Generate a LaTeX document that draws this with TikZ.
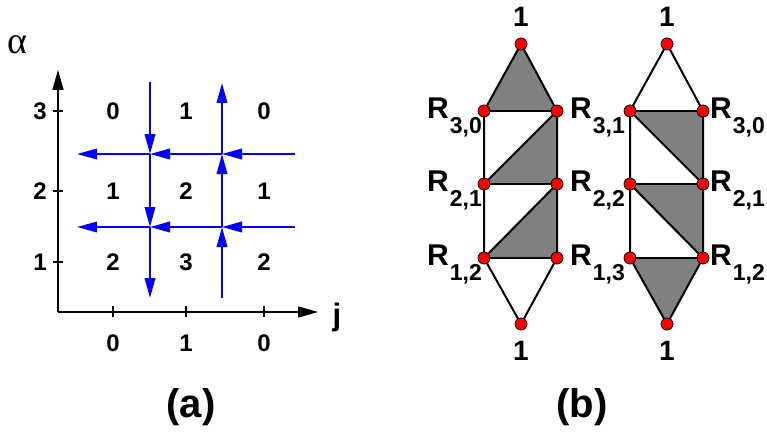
\documentclass[tikz,border=0pt]{standalone}
\usepackage{fontspec}
\setmainfont{Liberation Sans}
\newfontfamily\greekfont{Liberation Serif}
\usetikzlibrary{arrows.meta}
\newcommand{\Rlab}[1]{R\kern1pt\raisebox{-15pt}{\fontsize{23}{23}\selectfont #1}}
\tikzset{
  lbl/.style={font=\fontsize{24}{24}\selectfont\bfseries, inner sep=0pt},
  onelbl/.style={font=\fontsize{28}{28}\selectfont\bfseries, inner sep=0pt},
  caplbl/.style={font=\fontsize{40}{40}\selectfont\bfseries, inner sep=0pt},
  ax/.style={line width=1.3pt, -{Triangle[length=20pt,width=11pt]}},
  tick/.style={line width=1.3pt},
  flow/.style={blue, line width=2pt, -{Triangle[length=20pt,width=10.5pt]}},
  edge/.style={line width=2pt, line join=round},
  shade/.style={fill={rgb,255:red,128;green,128;blue,128}},
  dot/.style={circle, fill=red, draw=black, line width=0.8pt, minimum size=12pt, inner sep=0pt},
  rl/.style={font=\fontsize{30}{30}\selectfont\bfseries, inner sep=0pt},
}
\begin{document}
\begin{tikzpicture}[x=1pt,y=-1pt]
\useasboundingbox (0,0) rectangle (767,433);
% ---------- panel (a)
\coordinate (O) at (58,312);
\coordinate (Ytop) at (58,70);
\coordinate (Xend) at (318,312);
\draw[ax] (O) -- (Ytop);
\draw[ax] (O) -- (Xend);
\node[font=\fontsize{38}{38}\selectfont\greekfont, inner sep=0pt] (alpha) at (17,45) {α};
\node[lbl, font=\fontsize{31}{31}\selectfont\bfseries] (jl) at (337,317) {j};
% ticks
\foreach \y/\t/\n in {111/3/ta, 191/2/tb, 262/1/tc}{
  \draw[tick] (53,\y) -- (63,\y);
  \node[lbl] (\n) at (40,\y) {\t};
}
\foreach \x/\t/\n in {113/0/xa, 186/1/xb, 264/0/xc}{
  \draw[tick] (\x,306) -- (\x,317);
  \node[lbl] (\n) at (\x,343) {\t};
}
% cell values
\node[lbl] (c13) at (113,111) {0};
\node[lbl] (c23) at (186,111) {1};
\node[lbl] (c33) at (264,111) {0};
\node[lbl] (c12) at (113,191) {1};
\node[lbl] (c22) at (186,191) {2};
\node[lbl] (c32) at (264,191) {1};
\node[lbl] (c11) at (113,262) {2};
\node[lbl] (c21) at (186,262) {3};
\node[lbl] (c31) at (264,262) {2};
% flow lines
\coordinate (h1r) at (295,154); \coordinate (h1l) at (77,154);
\coordinate (h2r) at (295,227); \coordinate (h2l) at (77,227);
\coordinate (i11) at (150,154); \coordinate (i21) at (222,154);
\coordinate (i12) at (150,227); \coordinate (i22) at (222,227);
\coordinate (v1t) at (150,82); \coordinate (v1b) at (150,298);
\coordinate (v2t) at (222,83); \coordinate (v2b) at (222,298);
\draw[flow] (h1r) -- (i21); \draw[flow] (i21) -- (i11); \draw[flow] (i11) -- (h1l);
\draw[flow] (h2r) -- (i22); \draw[flow] (i22) -- (i12); \draw[flow] (i12) -- (h2l);
\draw[flow] (v1t) -- (i11); \draw[flow] (i11) -- (i12); \draw[flow] (i12) -- (v1b);
\draw[flow] (v2b) -- (i22); \draw[flow] (i22) -- (i21); \draw[flow] (i21) -- (v2t);
\node[caplbl] (capa) at (191,407) {(a)};
% ---------- panel (b)
% left ladder
\coordinate (AT) at (521,44);
\coordinate (A3l) at (484,111); \coordinate (A3r) at (557,111);
\coordinate (A2l) at (484,184); \coordinate (A2r) at (557,184);
\coordinate (A1l) at (484,258); \coordinate (A1r) at (557,258);
\coordinate (AB) at (521,324);
\fill[shade] (AT) -- (A3l) -- (A3r) -- cycle;
\fill[shade] (A2l) -- (A3r) -- (A2r) -- cycle;
\fill[shade] (A1l) -- (A2r) -- (A1r) -- cycle;
\draw[edge] (AT) -- (A3l) -- (A1l) -- (AB) -- (A1r) -- (A3r) -- cycle;
\draw[edge] (A3l) -- (A3r);
\draw[edge] (A2l) -- (A2r);
\draw[edge] (A1l) -- (A1r);
\draw[edge] (A2l) -- (A3r);
\draw[edge] (A1l) -- (A2r);
% right ladder
\coordinate (BT) at (667,44);
\coordinate (B3l) at (630,111); \coordinate (B3r) at (703,111);
\coordinate (B2l) at (630,184); \coordinate (B2r) at (703,184);
\coordinate (B1l) at (630,258); \coordinate (B1r) at (703,258);
\coordinate (BB) at (667,324);
\fill[shade] (B3l) -- (B3r) -- (B2r) -- cycle;
\fill[shade] (B2l) -- (B2r) -- (B1r) -- cycle;
\fill[shade] (B1l) -- (B1r) -- (BB) -- cycle;
\draw[edge] (BT) -- (B3l) -- (B1l) -- (BB) -- (B1r) -- (B3r) -- cycle;
\draw[edge] (B3l) -- (B3r);
\draw[edge] (B2l) -- (B2r);
\draw[edge] (B1l) -- (B1r);
\draw[edge] (B3l) -- (B2r);
\draw[edge] (B2l) -- (B1r);
% labels (behind dots)
\node[onelbl] (oneAT) at (521,17) {1};
\node[onelbl] (oneBT) at (667,17) {1};
\node[onelbl] (oneAB) at (521,351) {1};
\node[onelbl] (oneBB) at (667,351) {1};
\node[rl, anchor=base east] (lA3l) at (482,118) {\Rlab{3,0}};
\node[rl, anchor=base east] (lA2l) at (482,191) {\Rlab{2,1}};
\node[rl, anchor=base east] (lA1l) at (482,265) {\Rlab{1,2}};
\node[rl, anchor=base west] (lM3) at (570,118) {\Rlab{3,1}};
\node[rl, anchor=base west] (lM2) at (570,191) {\Rlab{2,2}};
\node[rl, anchor=base west] (lM1) at (570,265) {\Rlab{1,3}};
\node[rl, anchor=base west] (lB3r) at (710,118) {\Rlab{3,0}};
\node[rl, anchor=base west] (lB2r) at (710,191) {\Rlab{2,1}};
\node[rl, anchor=base west] (lB1r) at (710,265) {\Rlab{1,2}};
% dots
\foreach \c in {AT,A3l,A3r,A2l,A2r,A1l,A1r,AB,BT,B3l,B3r,B2l,B2r,B1l,B1r,BB}{
  \node[dot] (d\c) at (\c) {};
}
\node[caplbl] (capb) at (582,407) {(b)};
\end{tikzpicture}
\end{document}
